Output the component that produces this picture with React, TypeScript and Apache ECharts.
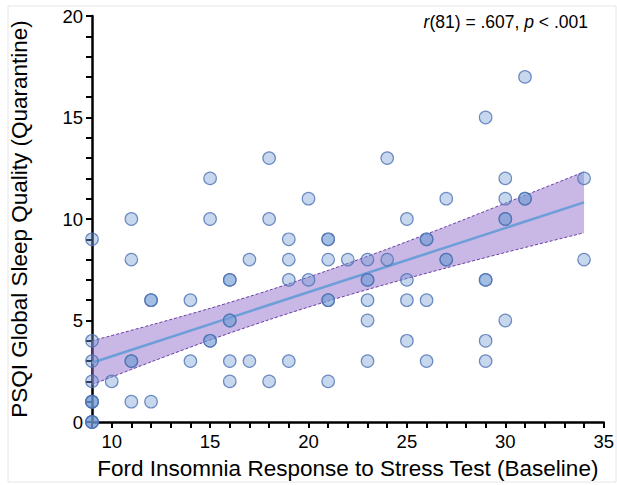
import React, { useEffect, useRef } from "react";
import * as echarts from "echarts";

// FIRST (baseline) scores, x
const firstX = [
  9, 9, 9, 9, 9, 9, 10, 11, 11, 11, 11, 12, 12, 14, 14, 15, 15, 15, 16, 16, 16, 16,
  17, 17, 18, 18, 18, 19, 19, 19, 19, 20, 20, 21, 21, 21, 21, 22, 23, 23, 23, 23, 23,
  24, 24, 25, 25, 25, 25, 26, 26, 26, 27, 27, 29, 29, 29, 29, 30, 30, 30, 30, 31, 31,
  34, 34,
  // repeated observations (overlapping markers)
  9, 9, 9, 9, 11, 12, 15, 16, 16, 21, 26, 21, 23, 27, 29, 30, 31,
];
// PSQI (quarantine) scores, y
const psqiY = [
  0, 1, 2, 3, 4, 9, 2, 1, 3, 8, 10, 1, 6, 3, 6, 4, 10, 12, 2, 3, 5, 7,
  3, 8, 2, 10, 13, 3, 7, 8, 9, 7, 11, 2, 6, 8, 9, 8, 3, 5, 6, 7, 8,
  8, 13, 4, 6, 7, 10, 3, 6, 9, 8, 11, 3, 4, 7, 15, 5, 10, 11, 12, 11, 17,
  8, 12,
  0, 0, 1, 1, 3, 6, 4, 5, 7, 9, 9, 6, 7, 8, 7, 10, 11,
];

// Regression line end points
const fitX = [9, 34];
const fitY = [2.92, 10.82];

// 95% confidence band
const bandX = [9, 12, 15, 18, 21, 24, 27, 30, 34];
const bandLower = [1.84, 2.96, 4.04, 5.04, 5.96, 6.8, 7.59, 8.35, 9.32];
const bandUpper = [4.0, 4.78, 5.6, 6.49, 7.47, 8.52, 9.63, 10.78, 12.32];

const xMajorLabels = [10, 15, 20, 25, 30, 35];
const yMajorLabels = [0, 5, 10, 15, 20];

const FONT = "'Liberation Sans', Arial, Helvetica, sans-serif";

export default function App() {
  const ref = useRef<HTMLDivElement>(null);

  useEffect(() => {
    if (!ref.current) return;
    const chart = echarts.init(ref.current, undefined, { renderer: "svg" });

    const points = firstX.map((x, i) => [x, psqiY[i]]);
    const bandData = bandX.map((x, i) => [x, bandLower[i], bandUpper[i]]);

    const option: any = {
      animation: false,
      backgroundColor: "#ffffff",
      textStyle: { fontFamily: FONT },
      grid: { left: 89, right: 12, top: 16, bottom: 63, containLabel: false },
      xAxis: {
        type: "value",
        min: 9,
        max: 35,
        interval: 1,
        name: "Ford Insomnia Response to Stress Test (Baseline)",
        nameLocation: "middle",
        nameGap: 35,
        nameTextStyle: { fontSize: 22.5, color: "#000", fontFamily: FONT },
        axisLine: { show: true, onZero: false, lineStyle: { color: "#000", width: 2.5 } },
        axisTick: { show: true, length: 6, lineStyle: { color: "#000", width: 2 } },
        axisLabel: {
          fontSize: 18.5,
          color: "#000",
          fontFamily: FONT,
          margin: 10,
          formatter: (v: number) => (xMajorLabels.indexOf(v) >= 0 ? String(v) : ""),
        },
        splitLine: { show: false },
      },
      yAxis: {
        type: "value",
        min: 0,
        max: 20,
        interval: 1,
        name: "PSQI Global Sleep Quality (Quarantine)",
        nameLocation: "middle",
        nameGap: 61,
        nameTextStyle: { fontSize: 22.5, color: "#000", fontFamily: FONT },
        axisLine: { show: true, onZero: false, lineStyle: { color: "#000", width: 2.5 } },
        axisTick: { show: true, length: 6, lineStyle: { color: "#000", width: 2 } },
        axisLabel: {
          fontSize: 18.5,
          color: "#000",
          fontFamily: FONT,
          margin: 9,
          formatter: (v: number) => (yMajorLabels.indexOf(v) >= 0 ? String(v) : ""),
        },
        splitLine: { show: false },
      },
      graphic: [
        {
          type: "rect",
          shape: { x: 8, y: 6, width: 608, height: 476 },
          style: { fill: "none", stroke: "#e6e6e6", lineWidth: 1 },
          silent: true,
          z: 0,
        },
        {
          type: "text",
          right: 29,
          top: 13,
          style: {
            text: "{i|r}(81) = .607, {i|p} < .001",
            fontSize: 17.5,
            fontFamily: FONT,
            fill: "#000",
            rich: {
              i: { fontStyle: "italic", fontSize: 17.5, fontFamily: FONT, fill: "#000" },
            },
          },
          z: 10,
        },
      ],
      series: [
        {
          type: "custom",
          name: "band",
          data: bandData,
          encode: { x: 0, y: [1, 2] },
          z: 1,
          silent: true,
          renderItem: (params: any, api: any) => {
            if (params.dataIndex !== 0) return null;
            const top = bandX.map((x, i) => api.coord([x, bandUpper[i]]));
            const bottom = bandX.map((x, i) => api.coord([x, bandLower[i]])).reverse();
            return {
              type: "polygon",
              shape: { points: top.concat(bottom) },
              style: { fill: "rgba(147,112,204,0.5)", stroke: "none" },
            };
          },
        },
        {
          type: "line",
          name: "upper",
          data: bandX.map((x, i) => [x, bandUpper[i]]),
          symbol: "none",
          smooth: 0.3,
          z: 2,
          silent: true,
          lineStyle: { color: "#6a3fa6", width: 1, type: [3, 2] },
        },
        {
          type: "line",
          name: "lower",
          data: bandX.map((x, i) => [x, bandLower[i]]),
          symbol: "none",
          smooth: 0.3,
          z: 2,
          silent: true,
          lineStyle: { color: "#6a3fa6", width: 1, type: [3, 2] },
        },
        {
          type: "line",
          name: "fit",
          data: fitX.map((x, i) => [x, fitY[i]]),
          symbol: "none",
          z: 3,
          silent: true,
          lineStyle: { color: "#6c9ed8", width: 2.5 },
        },
        {
          type: "scatter",
          name: "points",
          data: points,
          symbol: "circle",
          symbolSize: 12.5,
          z: 4,
          itemStyle: {
            color: "rgba(113,155,213,0.5)",
            borderColor: "#4d72b3",
            borderWidth: 1.2,
          },
        },
      ],
    };

    chart.setOption(option);
    return () => chart.dispose();
  }, []);

  return (
    <div
      ref={ref}
      style={{ position: "fixed", left: 0, top: 0, width: 617, height: 485 }}
    />
  );
}
